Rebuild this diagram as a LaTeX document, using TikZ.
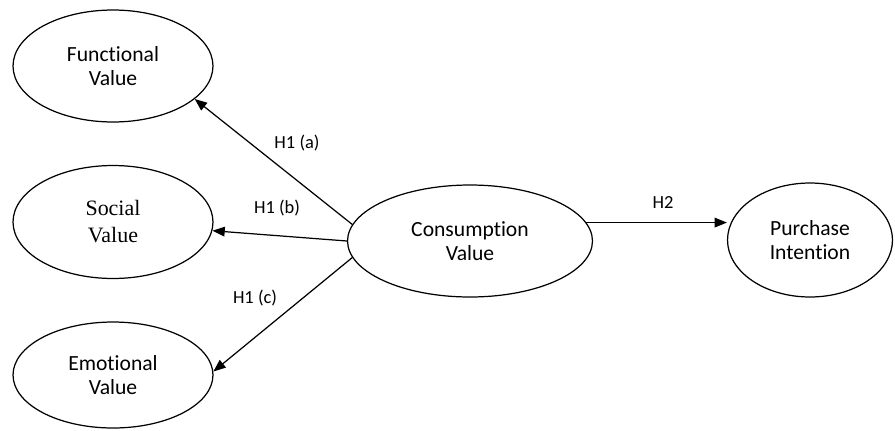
\documentclass[tikz,border=0pt]{standalone}
\usepackage{fontspec}
\setmainfont{Carlito}[Ligatures=NoCommon]
\newfontfamily\timesfont{Liberation Serif}
\usetikzlibrary{shapes.geometric,arrows.meta}

\begin{document}
\begin{tikzpicture}[x=0.02cm, y=-0.02cm,
		construct/.style={ellipse, draw, line width=0.7pt, inner sep=0pt, align=center,
			font=\fontsize{12.3}{13.7}\selectfont, minimum width=4cm, minimum height=2.24cm},
		hyp/.style={-{Triangle[length=7pt,width=5.5pt]}, line width=0.7pt},
		hlabel/.style={font=\fontsize{10.5}{12}\selectfont},
	]
		\useasboundingbox (0,0) rectangle (895,430);
		% left column
		\node[construct] (func) at (113,66) {Functional\\Value};
		\node[construct, minimum height=2.26cm, font=\timesfont\fontsize{12.5}{15.4}\selectfont] (soc) at (113,222) {Social\\Value};
		\node[construct, minimum height=2.12cm] (emo) at (113,375) {Emotional\\Value};
		% middle and right
		\node[construct, minimum width=4.9cm] (cons) at (470,241) {Consumption\\Value};
		\node[construct, minimum width=3.3cm, minimum height=2.28cm] (pur) at (810,240) {Purchase\\Intention};
		%
		\draw[hyp] (cons.172) -- (func.-22);
		\draw[hyp] (cons.180) -- (soc.-5);
		\draw[hyp] (cons.188) -- (emo.2);
		\draw[hyp] (cons.9) -- (cons.9 -| pur.west);
		%
		\node[hlabel] (la) at (297,143) {H1 (a)};
		\node[hlabel] (lb) at (277,208) {H1 (b)};
		\node[hlabel] (lc) at (255,298) {H1 (c)};
		\node[hlabel] (l2) at (663,203) {H2};
	\end{tikzpicture}
\end{document}
